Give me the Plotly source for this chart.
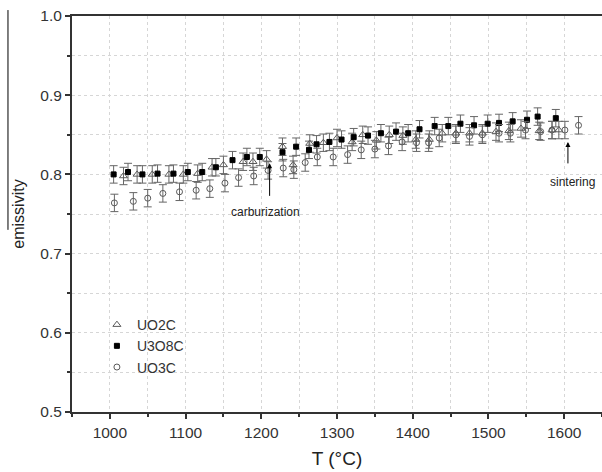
import plotly.graph_objects as go

# U3O8C (filled squares)
t_u3o8 = [1005, 1024, 1043, 1063, 1084, 1103, 1122, 1140, 1162, 1181, 1198, 1228, 1246, 1263, 1273, 1290,
          1306, 1322, 1341, 1358, 1378, 1394, 1409, 1429, 1447, 1463, 1481, 1499, 1514, 1532, 1551, 1565, 1589]
e_u3o8 = [0.800, 0.803, 0.800, 0.801, 0.801, 0.803, 0.803, 0.809, 0.818, 0.822, 0.822, 0.828, 0.835, 0.831, 0.838, 0.841,
          0.844, 0.847, 0.849, 0.852, 0.854, 0.852, 0.857, 0.861, 0.861, 0.864, 0.862, 0.864, 0.865, 0.867, 0.869, 0.873, 0.871]

# UO2C (open triangles)
t_uo2 = [1018, 1036, 1056, 1078, 1097, 1116, 1135, 1150, 1176, 1189, 1207, 1228, 1242, 1264, 1282, 1300,
         1320, 1334, 1352, 1369, 1387, 1404, 1422, 1439, 1457, 1475, 1492, 1510, 1527, 1543, 1567, 1584, 1593]
e_uo2 = [0.798, 0.800, 0.800, 0.800, 0.800, 0.801, 0.809, 0.812, 0.816, 0.816, 0.819, 0.835, 0.812, 0.839, 0.840, 0.846,
         0.841, 0.850, 0.843, 0.850, 0.849, 0.844, 0.844, 0.852, 0.852, 0.852, 0.852, 0.854, 0.855, 0.858, 0.855, 0.856, 0.856]

# UO3C (open circles)
t_uo3 = [1006, 1031, 1050, 1070, 1092, 1114, 1132, 1152, 1170, 1190, 1209, 1229, 1243, 1258, 1274, 1295, 1314,
         1332, 1350, 1368, 1386, 1405, 1421, 1435, 1457, 1475, 1492, 1514, 1529, 1549, 1569, 1584, 1601, 1619]
e_uo3 = [0.764, 0.766, 0.770, 0.776, 0.778, 0.780, 0.782, 0.789, 0.796, 0.798, 0.805, 0.808, 0.806, 0.815, 0.822, 0.822, 0.825,
         0.831, 0.832, 0.836, 0.841, 0.840, 0.840, 0.846, 0.850, 0.848, 0.850, 0.852, 0.852, 0.856, 0.854, 0.856, 0.856, 0.862]

err = 0.011

x_ticks = [1000, 1100, 1200, 1300, 1400, 1500, 1600]
y_ticks = [0.5, 0.6, 0.7, 0.8, 0.9, 1.0]

FONT = "Liberation Sans, Arial, sans-serif"
GREY = "#5a5a5a"
GRID = "#d6d6d6"

fig = go.Figure()

def add(name, t, e, symbol, color, size):
    fig.add_trace(go.Scatter(
        x=t, y=e, mode="markers", name=name,
        marker=dict(symbol=symbol, size=size, color=color, line=dict(color=color, width=1)),
        error_y=dict(type="constant", value=err, color="#666666", thickness=1, width=4),
    ))

add("UO2C", t_uo2, e_uo2, "triangle-up-open", GREY, 7)
add("U3O8C", t_u3o8, e_u3o8, "square", "black", 5)
add("UO3C", t_uo3, e_uo3, "circle-open", GREY, 6)

fig.add_annotation(x=1211, y=0.814, ax=1211, ay=0.771, xref="x", yref="y", axref="x", ayref="y",
                   showarrow=True, arrowhead=2, arrowsize=1, arrowwidth=1, arrowcolor="black", text="")
fig.add_annotation(x=1205, y=0.752, xref="x", yref="y", text="carburization", showarrow=False,
                   font=dict(family=FONT, size=12, color="#222"))
fig.add_annotation(x=1605, y=0.841, ax=1605, ay=0.812, xref="x", yref="y", axref="x", ayref="y",
                   showarrow=True, arrowhead=2, arrowsize=1, arrowwidth=1, arrowcolor="black", text="")
fig.add_annotation(x=1611, y=0.790, xref="x", yref="y", text="sintering", showarrow=False,
                   font=dict(family=FONT, size=12, color="#222"))

# scan artifact line at left edge
fig.add_shape(type="line", xref="paper", yref="paper", x0=-0.1208, x1=-0.1208, y0=0.46, y1=1.015,
              line=dict(color="black", width=1))

fig.update_layout(
    width=602, height=472,
    margin=dict(l=72, r=0, t=16, b=60),
    paper_bgcolor="white", plot_bgcolor="white",
    font=dict(family=FONT, size=15, color="#333"),
    showlegend=True,
    legend=dict(x=0.047, y=0.26, xanchor="left", yanchor="top", bgcolor="rgba(0,0,0,0)",
                font=dict(family=FONT, size=14, color="#333"), tracegroupgap=0),
    xaxis=dict(range=[950, 1650], tickvals=x_ticks, ticks="outside", ticklen=5, tickwidth=1.5,
               tickcolor="#333", showline=True, linecolor="#333", linewidth=2, mirror=True,
               showgrid=True, gridcolor=GRID, griddash="dot", gridwidth=1, zeroline=False,
               minor=dict(dtick=50, tick0=950, ticks="outside", ticklen=3, tickcolor="#333",
                          showgrid=True, gridcolor=GRID, griddash="dot"),
               title=dict(text="T (°C)", font=dict(family=FONT, size=19, color="#222"), standoff=12),
               tickfont=dict(family=FONT, size=15.5, color="#333")),
    yaxis=dict(range=[0.5, 1.0], tickvals=y_ticks, tickformat=".1f", ticks="outside", ticklen=5, tickwidth=1.5,
               tickcolor="#333", showline=True, linecolor="#333", linewidth=2, mirror=False,
               showgrid=True, gridcolor=GRID, griddash="dot", gridwidth=1, zeroline=False,
               minor=dict(dtick=0.05, tick0=0.5, ticks="outside", ticklen=3, tickcolor="#333",
                          showgrid=True, gridcolor=GRID, griddash="dot"),
               title=dict(text="emissivity", font=dict(family=FONT, size=16, color="#222"), standoff=12),
               tickfont=dict(family=FONT, size=15.5, color="#333")),
)

fig.write_html("out.html")
